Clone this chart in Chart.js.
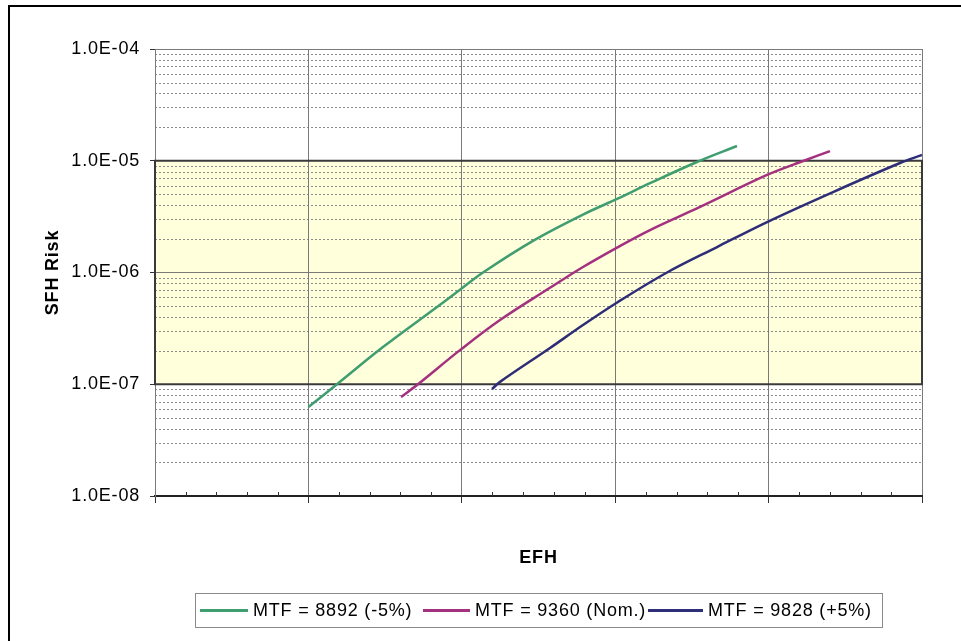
<!DOCTYPE html>
<html><head><meta charset="utf-8">
<script src="https://cdn.jsdelivr.net/npm/chart.js@4.4.0/dist/chart.umd.min.js"></script>
<style>html,body{margin:0;padding:0;background:#fff;}canvas{display:block;}</style>
</head><body>
<canvas id="c" width="961" height="641"></canvas>
<script>
// ---- data ----
const seriesLabels = ['MTF = 8892 (-5%)', 'MTF = 9360 (Nom.)', 'MTF = 9828 (+5%)'];
const efhLow  = [10.0, 11.86, 14.86, 18.12, 19.88, 21.38, 24.64, 27.90, 30.12, 32.27, 35.33, 37.94];
const riskLow = [6.25e-8, 1.0e-7, 2.15e-7, 4.62e-7, 7.0e-7, 1.0e-6, 1.92e-6, 3.3e-6, 4.55e-6, 6.3e-6, 9.75e-6, 1.355e-5];
const efhNom  = [16.04, 17.14, 19.88, 22.49, 25.75, 27.90, 30.18, 32.27, 35.53, 39.90, 42.30, 44.00];
const riskNom = [7.69e-8, 1.0e-7, 2.02e-7, 3.76e-7, 7.3e-7, 1.12e-6, 1.69e-6, 2.40e-6, 3.86e-6, 7.46e-6, 1.0e-5, 1.22e-5];
const efhHigh  = [21.97, 22.49, 25.75, 27.90, 30.18, 33.38, 36.64, 39.90, 44.20, 48.57, 50.0];
const riskHigh = [9.06e-8, 1.05e-7, 2.11e-7, 3.39e-7, 5.45e-7, 1.0e-6, 1.69e-6, 2.83e-6, 5.25e-6, 9.55e-6, 1.125e-5];
const yMajorValues = [1e-8, 1e-7, 1e-6, 1e-5, 1e-4];
const yTickLabels  = ['1.0E-08', '1.0E-07', '1.0E-06', '1.0E-05', '1.0E-04'];
const yMinorMultipliers = [2, 3, 4, 5, 6, 7, 8, 9];
const xRange = [0, 50];
const xMajorStep = 10, xMinorStep = 2;
const bandRange = [1e-7, 1e-5];
const seriesColors = ['#3f9d70', '#a3317f', '#2d2d78'];

const toPts = (xs, ys) => xs.map((x, i) => ({x: x, y: ys[i]}));
const seriesData = [toPts(efhLow, riskLow), toPts(efhNom, riskNom), toPts(efhHigh, riskHigh)];

const FONT = '"Liberation Sans", Arial, sans-serif';

const decor = {
  id: 'decor',
  beforeDraw(chart) {
    const {ctx, chartArea: a, scales: {y}} = chart;
    ctx.letterSpacing = '0.8px';
    ctx.save();
    const yHi = y.getPixelForValue(bandRange[1]);
    const yLo = y.getPixelForValue(bandRange[0]);
    ctx.fillStyle = '#ffffdc';
    ctx.fillRect(a.left, yHi, a.right - a.left, yLo - yHi);
    ctx.strokeStyle = '#8a8a8a';
    ctx.lineWidth = 1;
    ctx.setLineDash([2, 2]);
    for (let i = 0; i < yMajorValues.length - 1; i++) {
      yMinorMultipliers.forEach(m => {
        const py = Math.round(y.getPixelForValue(yMajorValues[i] * m)) + 0.5;
        ctx.beginPath(); ctx.moveTo(a.left, py); ctx.lineTo(a.right, py); ctx.stroke();
      });
    }
    ctx.restore();
  },
  beforeDatasetsDraw(chart) {
    const {ctx, chartArea: a, scales: {x, y}} = chart;
    ctx.save();
    const yHi = y.getPixelForValue(bandRange[1]);
    const yLo = y.getPixelForValue(bandRange[0]);
    ctx.strokeStyle = '#3a3a3a';
    ctx.lineWidth = 2;
    ctx.strokeRect(a.left, yHi, a.right - a.left, yLo - yHi);
    ctx.lineWidth = 1;
    ctx.strokeStyle = '#333';
    for (let v = xRange[0]; v <= xRange[1]; v += xMinorStep) {
      if (v % xMajorStep === 0) continue;
      const px = Math.round(x.getPixelForValue(v)) + 0.5;
      ctx.beginPath(); ctx.moveTo(px, a.bottom - 4); ctx.lineTo(px, a.bottom); ctx.stroke();
    }
    ctx.restore();
  },
  afterDraw(chart) {
    const {ctx} = chart;
    ctx.save();
    ctx.strokeStyle = '#000';
    ctx.lineWidth = 2;
    ctx.strokeRect(9, 6, 1000, 700);
    // legend
    ctx.strokeStyle = '#8a8a8a';
    ctx.lineWidth = 1;
    ctx.strokeRect(195.5, 593.5, 687, 34);
    const lineStarts = [200, 423, 648];
    const lineLens = [48, 47, 55];
    ctx.font = '18px ' + FONT;
    ctx.textBaseline = 'middle';
    ctx.textAlign = 'left';
    ctx.fillStyle = '#000';
    chart.data.datasets.forEach((ds, i) => {
      ctx.strokeStyle = ds.borderColor;
      ctx.lineWidth = 3;
      ctx.beginPath();
      ctx.moveTo(lineStarts[i], 610.5);
      ctx.lineTo(lineStarts[i] + lineLens[i], 610.5);
      ctx.stroke();
      ctx.fillText(ds.label, lineStarts[i] + lineLens[i] + 5, 611);
    });
    ctx.restore();
  }
};

new Chart(document.getElementById('c'), {
  type: 'line',
  data: {
    datasets: seriesLabels.map((lab, i) => ({
      label: lab,
      data: seriesData[i],
      borderColor: seriesColors[i],
      backgroundColor: seriesColors[i],
      borderWidth: 2.5,
      pointRadius: 0,
      tension: 0.35,
      fill: false
    }))
  },
  options: {
    responsive: false,
    animation: false,
    devicePixelRatio: 1,
    layout: {padding: {left: 0, top: 49, right: 39, bottom: 65}},
    plugins: {legend: {display: false}, tooltip: {enabled: false}},
    scales: {
      x: {
        type: 'linear',
        min: xRange[0], max: xRange[1],
        ticks: {stepSize: xMinorStep, callback: () => '', padding: 0},
        grid: {
          color: c => (c.tick && c.tick.value % xMajorStep === 0) ? '#7a7a7a' : 'rgba(0,0,0,0)',
          tickColor: c => (c.tick && c.tick.value % xMajorStep === 0) ? '#333' : 'rgba(0,0,0,0)',
          tickLength: 7,
          lineWidth: 1
        },
        border: {color: '#222', width: 2},
        title: {display: true, text: 'EFH', color: '#000', font: {family: FONT, size: 18, weight: 'bold'}, padding: {top: 0, bottom: 7}},
        afterFit: s => { s.height = 80; }
      },
      y: {
        type: 'logarithmic',
        min: yMajorValues[0], max: yMajorValues[yMajorValues.length - 1],
        afterBuildTicks: s => {
          const t = [];
          yMajorValues.forEach((v, i) => {
            t.push({value: v, major: true});
            if (i < yMajorValues.length - 1) yMinorMultipliers.forEach(m => t.push({value: v * m}));
          });
          s.ticks = t;
        },
        ticks: {
          autoSkip: false,
          padding: 10,
          color: '#000',
          font: {family: FONT, size: 18},
          callback: v => { const k = yMajorValues.findIndex(m => Math.abs(m - v) / m < 1e-6); return k >= 0 ? yTickLabels[k] : ''; }
        },
        grid: {
          color: c => (c.tick && yMajorValues.some(m => Math.abs(m - c.tick.value) / m < 1e-6)) ? '#7a7a7a' : 'rgba(0,0,0,0)',
          tickColor: c => (c.tick && yMajorValues.some(m => Math.abs(m - c.tick.value) / m < 1e-6)) ? '#333' : 'rgba(0,0,0,0)',
          tickLength: 5,
          lineWidth: 1
        },
        border: {color: '#7a7a7a', width: 1},
        title: {display: true, text: 'SFH Risk', color: '#000', font: {family: FONT, size: 18, weight: 'bold'}, padding: {top: 42, bottom: 0}},
        afterFit: s => { s.width = 155; }
      }
    }
  },
  plugins: [decor]
});
</script>
</body></html>
